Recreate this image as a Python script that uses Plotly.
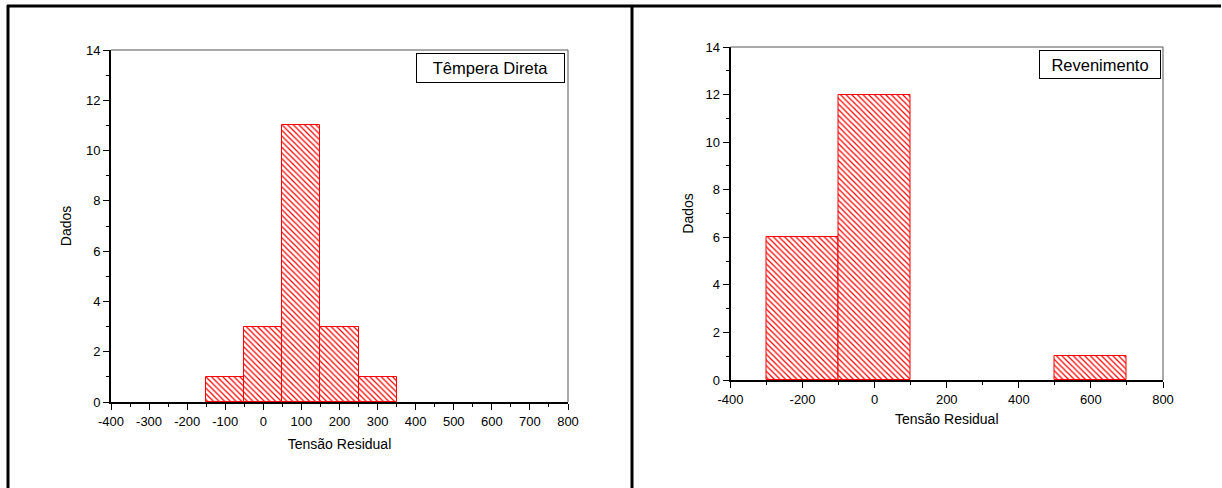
import plotly.graph_objects as go

# ---- data ----
left_centers = [-100, 0, 100, 200, 300]
left_counts = [1, 3, 11, 3, 1]
left_bin_width = 100

right_centers = [-200, 0, 600]
right_counts = [6, 12, 1]
right_bin_width = 200

left_xticks = [-400, -300, -200, -100, 0, 100, 200, 300, 400, 500, 600, 700, 800]
right_xticks = [-400, -200, 0, 200, 400, 600, 800]
yticks = [0, 2, 4, 6, 8, 10, 12, 14]

x_title = "Tensão Residual"
y_title = "Dados"
left_label = "Têmpera Direta"
right_label = "Revenimento"

W, H = 1222, 488
FONT = "Arial, Liberation Sans, sans-serif"

def px_x(p):
    return p / W

def px_y(p):
    return 1 - p / H

fig = go.Figure()

bar_style = dict(
    color="white",
    line=dict(color="red", width=1),
    pattern=dict(shape="\\", fgcolor="red", bgcolor="white", size=4, solidity=0.3),
)

fig.add_trace(go.Bar(x=left_centers, y=left_counts, width=left_bin_width,
                     marker=bar_style, xaxis="x", yaxis="y", showlegend=False))
fig.add_trace(go.Bar(x=right_centers, y=right_counts, width=right_bin_width,
                     marker=bar_style, xaxis="x2", yaxis="y2", showlegend=False))

axis_common = dict(
    showline=True, linecolor="black", linewidth=2,
    ticks="outside", ticklen=6, tickwidth=1, tickcolor="black",
    showgrid=False, zeroline=False, automargin=False,
    tickfont=dict(family=FONT, size=13, color="black"),
    title_font=dict(family=FONT, size=14, color="black"),
)

def minor(d):
    return dict(dtick=d, ticklen=3, ticks="outside", tickcolor="black", tickwidth=1)

fig.update_layout(
    template="none",
    width=W, height=H,
    margin=dict(l=0, r=0, t=0, b=0, pad=0),
    paper_bgcolor="white", plot_bgcolor="white",
    bargap=0,
    xaxis=dict(domain=[px_x(111), px_x(568)], range=[-400, 800],
               tickmode="array", tickvals=left_xticks, ticktext=[str(v) for v in left_xticks],
               minor=minor(50), anchor="y", title=dict(text=x_title, standoff=12), **axis_common),
    yaxis=dict(domain=[px_y(402), px_y(50)], range=[0, 14],
               tickmode="array", tickvals=yticks, ticktext=[str(v) for v in yticks],
               minor=minor(1), anchor="x", title=dict(text=y_title, standoff=11), **axis_common),
    xaxis2=dict(domain=[px_x(730.5), px_x(1163)], range=[-400, 800],
                tickmode="array", tickvals=right_xticks, ticktext=[str(v) for v in right_xticks],
                minor=minor(100), anchor="y2", title=dict(text=x_title, standoff=9), **axis_common),
    yaxis2=dict(domain=[px_y(380), px_y(47)], range=[0, 14],
                tickmode="array", tickvals=yticks, ticktext=[str(v) for v in yticks],
                minor=minor(1), anchor="x2", title=dict(text=y_title, standoff=9), **axis_common),
)

shapes = []
# top and right frame lines of each plot
for xa, ya in (("x", "y"), ("x2", "y2")):
    shapes.append(dict(type="line", xref=f"{xa} domain", yref=f"{ya} domain",
                       x0=0, x1=1, y0=1, y1=1, line=dict(color="#555555", width=1)))
    shapes.append(dict(type="line", xref=f"{xa} domain", yref=f"{ya} domain",
                       x0=1, x1=1, y0=0, y1=1, line=dict(color="#555555", width=1)))
# outer table-like frame
shapes.append(dict(type="line", xref="paper", yref="paper", x0=px_x(7), x1=px_x(1221),
                   y0=px_y(6), y1=px_y(6), line=dict(color="black", width=3)))
shapes.append(dict(type="line", xref="paper", yref="paper", x0=px_x(8), x1=px_x(8),
                   y0=px_y(5), y1=0, line=dict(color="black", width=3)))
shapes.append(dict(type="line", xref="paper", yref="paper", x0=px_x(632), x1=px_x(632),
                   y0=px_y(5), y1=0, line=dict(color="black", width=3)))
fig.update_layout(shapes=shapes)

fig.add_annotation(text=left_label, xref="paper", yref="paper",
                   x=px_x(565), y=px_y(53), xanchor="right", yanchor="top",
                   showarrow=False, bordercolor="black", borderwidth=1, bgcolor="white",
                   width=141, height=22, borderpad=3,
                   font=dict(family=FONT, size=16.5, color="black"))
fig.add_annotation(text=right_label, xref="paper", yref="paper",
                   x=px_x(1161), y=px_y(50), xanchor="right", yanchor="top",
                   showarrow=False, bordercolor="black", borderwidth=1, bgcolor="white",
                   width=114, height=21, borderpad=3,
                   font=dict(family=FONT, size=16.5, color="black"))

fig.write_html("out.html",
               config={"displayModeBar": False},
               post_script="document.body.style.margin='0';document.body.style.overflow='hidden';")
